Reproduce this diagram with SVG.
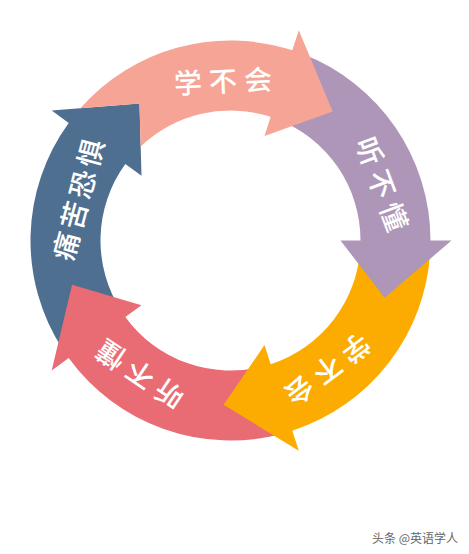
<svg xmlns="http://www.w3.org/2000/svg" width="469" height="554" viewBox="0 0 469 554">
  <defs>
    <style>
      .lbl { font-family: "Noto Sans CJK SC", "Noto Sans", sans-serif; font-size: 28px; font-weight: 500; fill: #ffffff; text-anchor: middle; dominant-baseline: central; }
      .wm { font-family: "Noto Sans CJK SC", "Noto Sans", sans-serif; font-size: 12px; fill: #666666; }
    </style>
    <path id="arrowStd" d="M -186.72,-71.67 A 200 200 0 0 1 0,-200 L 0,-221 L 57.34,-154.18 L 0,-110 L 0,-130 A 130 130 0 0 0 -121.37,-46.59 Z"/>
  </defs>
  <rect width="469" height="554" fill="#ffffff"/>
  <g id="cycle" transform="translate(230.5,240.5)">
    <g id="node-tongku" transform="rotate(306)">
      <use href="#arrowStd" fill="#4F6F91"/>
      <text class="lbl" transform="rotate(-21) translate(0,-159)" x="2" letter-spacing="4">痛苦恐惧</text>
    </g>
    <g id="node-tingbudong2" transform="rotate(234)">
      <use href="#arrowStd" fill="#E96C74"/>
      <text class="lbl" transform="rotate(-20) translate(0,-163)" x="3.5" letter-spacing="7">听不懂</text>
    </g>
    <g id="node-xuebuhui2" transform="rotate(162)">
      <use href="#arrowStd" fill="#FCAC00"/>
      <text class="lbl" transform="rotate(-19) translate(0,-163)" x="3.5" letter-spacing="7">学不会</text>
    </g>
    <g id="node-tingbudong" transform="rotate(90)">
      <use href="#arrowStd" fill="#AE96B8"/>
      <text class="lbl" transform="rotate(-20.5) translate(0,-163)" x="3.5" letter-spacing="7">听不懂</text>
    </g>
    <g id="node-xuebuhui" transform="rotate(18)">
      <path d="M -183.57,-79.39 A 200 200 0 0 1 0,-200 L 0,-221 L 57.34,-154.18 L 0,-110 L 0,-130 A 130 130 0 0 0 -114.47,-61.62 L -128.92,-102.18 Z" fill="#F6A495"/>
      <text class="lbl" transform="rotate(-20.7) translate(0,-161)" x="3.5" letter-spacing="7">学不会</text>
    </g>
  </g>
  <g id="connectors"></g>
  <text class="wm" x="372" y="543">头条 @英语学人</text>
</svg>
